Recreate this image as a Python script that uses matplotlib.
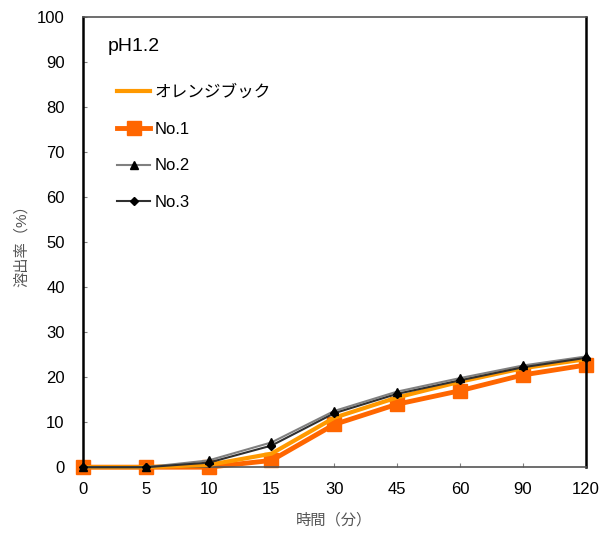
import matplotlib
matplotlib.use('Agg')
import matplotlib.pyplot as plt
import numpy as np

plt.rcParams['font.family'] = ['Liberation Sans', 'Noto Sans CJK JP', 'DejaVu Sans']

times = ['0', '5', '10', '15', '30', '45', '60', '90', '120']
orange_book = [0, 0, 0.5, 3.0, 11.0, 15.5, 19.0, 22.0, 24.0]
no1 = [0, 0, 0, 1.5, 9.5, 14.0, 17.0, 20.5, 22.7]
no2 = [0, 0, 1.5, 5.5, 12.5, 16.8, 19.8, 22.6, 24.6]
no3 = [0, 0, 1.0, 4.8, 12.0, 16.3, 19.3, 22.2, 24.3]

x = np.arange(len(times))

fig = plt.figure(figsize=(6.04, 5.37), dpi=100)
ax = fig.add_axes([0.137, 0.130, 0.833, 0.838])

ax.plot(x, no1, color='#FF6600', lw=3.5, marker='s', ms=10, label='No.1',
        zorder=2, clip_on=False)
ax.plot(x, orange_book, color='#FF9900', lw=3, label='オレンジブック',
        zorder=3, clip_on=False)
ax.plot(x, no2, color='#808080', lw=1.5, marker='^', ms=6, mfc='black', mec='black',
        label='No.2', zorder=4, clip_on=False)
ax.plot(x, no3, color='#303030', lw=1.5, marker='D', ms=4.5, mfc='black', mec='black',
        label='No.3', zorder=5, clip_on=False)

ax.set_xlim(0, len(times) - 1)
ax.set_ylim(0, 100)
ax.set_xticks(x)
ax.set_xticklabels(times)
ax.set_yticks(np.arange(0, 101, 10))
ax.tick_params(direction='in', length=3, labelsize=12, color='#808080')
ax.tick_params(axis='x', pad=11)
ax.tick_params(axis='y', pad=13)

for s in ['left', 'right']:
    ax.spines[s].set_color('black')
    ax.spines[s].set_linewidth(1.8)
for s in ['top', 'bottom']:
    ax.spines[s].set_color('#555555')
    ax.spines[s].set_linewidth(1.2)

ax.set_xlabel('時間（分）', fontsize=11, color='#555555', labelpad=11)
ax.set_ylabel('溶出率（%）', fontsize=11, color='#555555', labelpad=6)

ax.text(0.05, 0.935, 'pH1.2', transform=ax.transAxes, fontsize=14, va='center')

handles, labels = ax.get_legend_handles_labels()
order = [1, 0, 2, 3]
ax.legend([handles[i] for i in order], [labels[i] for i in order],
          loc='upper left', bbox_to_anchor=(0.055, 0.865), frameon=False,
          fontsize=12, handlelength=2.0, handletextpad=0.25, labelspacing=1.3,
          borderaxespad=0)

fig.savefig('out.png', dpi=100)
